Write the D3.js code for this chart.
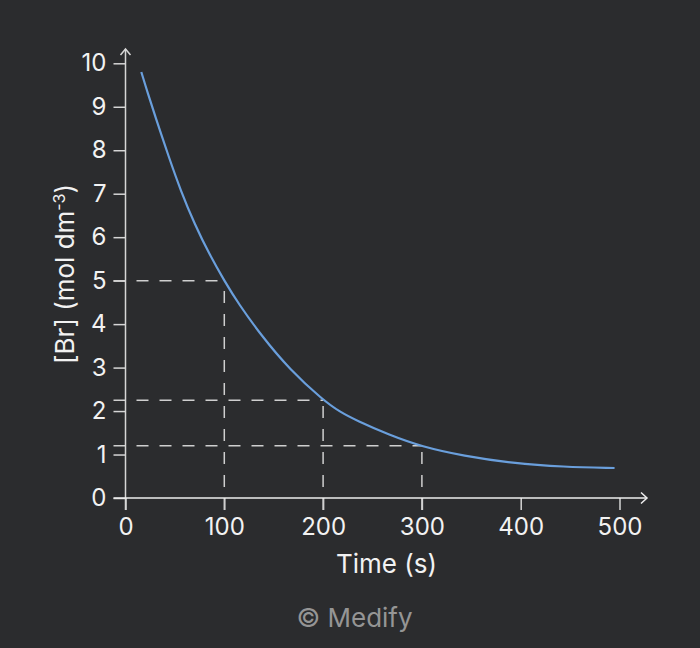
<!DOCTYPE html>
<html>
<head>
<meta charset="utf-8">
<script src="https://cdn.jsdelivr.net/npm/d3@7"></script>
<style>
  html, body { margin: 0; padding: 0; background: #2b2c2e; }
  svg { display: block; }
  text { font-family: Inter, "Liberation Sans", sans-serif; }
</style>
</head>
<body>
<div id="chart"></div>
<script>
// values
const times = [16, 22, 33, 43, 56, 70, 85, 100, 114, 138, 166, 200, 217, 234, 266, 300, 342, 392, 443, 495];
const conc  = [9.8, 9.35, 8.58, 7.9, 7.06, 6.3, 5.6, 5.0, 4.48, 3.72, 2.96, 2.25, 1.98, 1.78, 1.46, 1.18, 0.97, 0.8, 0.715, 0.69];

// half-life guide lines
const guideTimes = [100, 200, 300];
const guideConc  = [5, 2.25, 1.2];

const xTicks = [0, 100, 200, 300, 400, 500];
const yTicks = [0, 1, 2, 3, 4, 5, 6, 7, 8, 9, 10];

const W = 700, H = 648;
const tickLen = 12;
const axisCol = '#d6d6d6';

const svg = d3.select('#chart').append('svg')
  .attr('width', W).attr('height', H);

svg.append('rect').attr('width', W).attr('height', H).attr('fill', '#2b2c2e');

const x = d3.scaleLinear().domain([0, 500]).range([125.5, 619.5]);
const y = d3.scaleLinear().domain([0, 10]).range([498, 63.3]);

// axes (ticks + labels only, domain drawn by hand with arrows)
const gx = svg.append('g')
  .attr('transform', `translate(0,${y(0)})`)
  .call(d3.axisBottom(x).tickValues(xTicks).tickSize(tickLen).tickSizeOuter(0).tickPadding(8));
const gy = svg.append('g')
  .attr('transform', `translate(${x(0)},0)`)
  .call(d3.axisLeft(y).tickValues(yTicks).tickSize(tickLen).tickSizeOuter(0).tickPadding(7));

[gx, gy].forEach(g => {
  g.select('.domain').remove();
  g.selectAll('.tick line').attr('stroke', axisCol).attr('stroke-width', 1.5);
  g.selectAll('.tick text')
    .attr('fill', '#f2f2f2')
    .style('font-family', 'Inter, sans-serif')
    .style('font-size', '24px');
});

// dashed guides: from the y tick ends to the curve, and down to the x tick ends
const guides = svg.append('g')
  .attr('stroke', '#cfcfcf')
  .attr('stroke-width', 1.5)
  .attr('stroke-dasharray', '12,11')
  .attr('fill', 'none');

guideTimes.forEach((t, i) => {
  guides.append('line')
    .attr('x1', x(0) - tickLen).attr('x2', x(t))
    .attr('y1', y(guideConc[i])).attr('y2', y(guideConc[i]));
  guides.append('line')
    .attr('x1', x(t)).attr('x2', x(t))
    .attr('y1', y(0) + tickLen).attr('y2', y(guideConc[i]));
});

// axis lines with open arrow heads
const axes = svg.append('g').attr('stroke', axisCol).attr('stroke-width', 1.5).attr('fill', 'none');
axes.append('line')
  .attr('x1', x(0)).attr('x2', x(0))
  .attr('y1', y(0) + tickLen).attr('y2', 49);
axes.append('path')
  .attr('d', `M${x(0) - 5},55 L${x(0)},49 L${x(0) + 5},55`);
axes.append('line')
  .attr('x1', x(0) - tickLen).attr('x2', 647)
  .attr('y1', y(0)).attr('y2', y(0))
  .attr('stroke', '#eeeeee');
axes.append('path')
  .attr('d', `M641,${y(0) - 5.5} L647,${y(0)} L641,${y(0) + 5.5}`)
  .attr('stroke', '#eeeeee');

// the decay curve (basis spline irons out small reading errors)
const line = d3.line()
  .x((d, i) => x(times[i]))
  .y(d => y(d))
  .curve(d3.curveBasis);

svg.append('path')
  .datum(conc)
  .attr('d', line)
  .attr('fill', 'none')
  .attr('stroke', '#6a9fdc')
  .attr('stroke-width', 2.2);

// titles
svg.append('text')
  .attr('x', 386.5).attr('y', 573)
  .attr('text-anchor', 'middle')
  .attr('fill', '#f2f2f2')
  .style('font-size', '26px')
  .text('Time (s)');

const yl = svg.append('text')
  .attr('transform', 'translate(74,274) rotate(-90)')
  .attr('text-anchor', 'middle')
  .attr('fill', '#f2f2f2')
  .style('font-size', '26px');
yl.append('tspan').text('[Br] (mol dm');
yl.append('tspan').attr('dy', -9).style('font-size', '16px').text('-3');
yl.append('tspan').attr('dy', 9).text(')');

svg.append('text')
  .attr('x', 354.5).attr('y', 627)
  .attr('text-anchor', 'middle')
  .attr('fill', '#959595')
  .style('font-size', '26px')
  .text('© Medify');
</script>
</body>
</html>
